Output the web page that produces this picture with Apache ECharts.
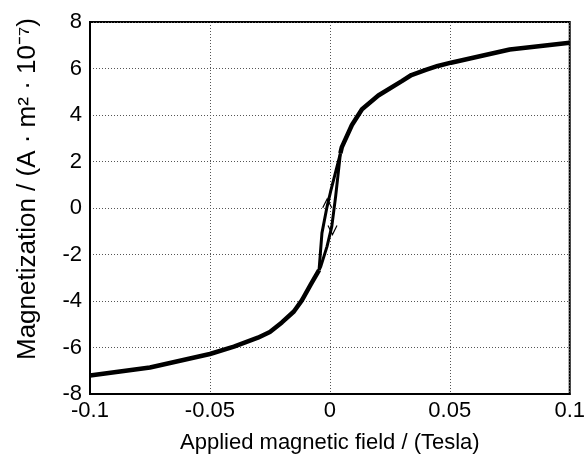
<!DOCTYPE html>
<html>
<head>
<meta charset="utf-8">
<script src="https://cdn.jsdelivr.net/npm/echarts@6/dist/echarts.min.js"></script>
<style>
  html, body { margin: 0; padding: 0; background: #fff; }
  #chart { width: 588px; height: 460px; }
</style>
</head>
<body>
<div id="chart"></div>
<script>
// Hysteresis loop of magnetization vs applied field.

// outer curve, negative field side (shared by both branches)
const tailNegField = [-0.1, -0.075, -0.05, -0.04, -0.03, -0.025, -0.02, -0.015, -0.0116, -0.008, -0.0045];
const tailNegMoment = [-7.2, -6.86, -6.28, -5.96, -5.58, -5.33, -4.92, -4.45, -3.96, -3.3, -2.67];

// outer curve, positive field side
const tailPosField = [0.0044, 0.005, 0.0092, 0.0134, 0.0202, 0.03, 0.034, 0.04, 0.045, 0.0505, 0.075, 0.1];
const tailPosMoment = [2.35, 2.62, 3.57, 4.25, 4.84, 5.46, 5.72, 5.94, 6.11, 6.25, 6.82, 7.11];

// the two branches of the loop near zero field
const leftBranchField = [-0.0045, -0.0033, -0.0012, 0.0003, 0.0044];
const leftBranchMoment = [-2.67, -1.08, 0.04, 0.7, 2.35];
const rightBranchField = [-0.0045, -0.0038, -0.0012, 0.0008, 0.0024, 0.0044];
const rightBranchMoment = [-2.67, -2.52, -1.66, -0.8, 0.49, 2.35];

// arrow heads on the branches
const arrowUp = [-0.0011, 0.2];
const arrowDown = [0.0011, -0.95];

const xTicks = { min: -0.1, max: 0.1, step: 0.05 };
const yTicks = { min: -8, max: 8, step: 2 };

const pairs = (xs, ys) => xs.map((x, i) => [x, ys[i]]);

const chart = echarts.init(document.getElementById("chart"), null, { renderer: "canvas" });

const FONT = "Liberation Sans, Arial, sans-serif";
const gridLine = { show: true, lineStyle: { color: "#555", width: 1, type: [1, 2] } };

chart.setOption({
  animation: false,
  backgroundColor: "#fff",
  grid: { left: 90, right: 14, top: 22, bottom: 66, show: true, borderColor: "#000", borderWidth: 2 },
  xAxis: {
    type: "value",
    min: xTicks.min,
    max: xTicks.max,
    interval: xTicks.step,
    name: "Applied magnetic field / (Tesla)",
    nameLocation: "middle",
    nameGap: 38,
    nameTextStyle: { fontFamily: FONT, fontSize: 22, color: "#000" },
    axisLine: { show: true, onZero: false, lineStyle: { color: "#000", width: 2 } },
    axisTick: { show: false },
    axisLabel: {
      fontFamily: FONT, fontSize: 22, color: "#000", margin: 6,
      formatter: (v) => String(+v.toFixed(3)),
    },
    splitLine: gridLine,
  },
  yAxis: {
    type: "value",
    min: yTicks.min,
    max: yTicks.max,
    interval: yTicks.step,
    name: "Magnetization / (A · m² · 10⁻⁷)",
    nameLocation: "middle",
    nameRotate: 90,
    nameGap: 49,
    nameTextStyle: { fontFamily: FONT, fontSize: 26, color: "#000", padding: [0, 0, 0, 38] },
    axisLine: { show: true, onZero: false, lineStyle: { color: "#000", width: 2 } },
    axisTick: { show: false },
    axisLabel: { fontFamily: FONT, fontSize: 22, color: "#000", margin: 8 },
    splitLine: gridLine,
  },
  series: [
    {
      type: "line", data: pairs(tailNegField, tailNegMoment), symbol: "none",
      lineStyle: { color: "#000", width: 4.5 },
    },
    {
      type: "line", data: pairs(tailPosField, tailPosMoment), symbol: "none",
      lineStyle: { color: "#000", width: 4.5 },
    },
    {
      type: "line", data: pairs(leftBranchField, leftBranchMoment), symbol: "none",
      lineStyle: { color: "#000", width: 3 },
      markPoint: {
        symbol: "path://M0,10 L5,0 L10,10",
        symbolSize: [9, 9],
        itemStyle: { color: "none", borderColor: "#000", borderWidth: 1.2 },
        label: { show: false },
        data: [{ coord: arrowUp }],
      },
    },
    {
      type: "line", data: pairs(rightBranchField, rightBranchMoment), symbol: "none",
      lineStyle: { color: "#000", width: 3 },
      markPoint: {
        symbol: "path://M0,0 L5,10 L10,0",
        symbolSize: [9, 9],
        itemStyle: { color: "none", borderColor: "#000", borderWidth: 1.2 },
        label: { show: false },
        data: [{ coord: arrowDown }],
      },
    },
  ],
});
</script>
</body>
</html>
